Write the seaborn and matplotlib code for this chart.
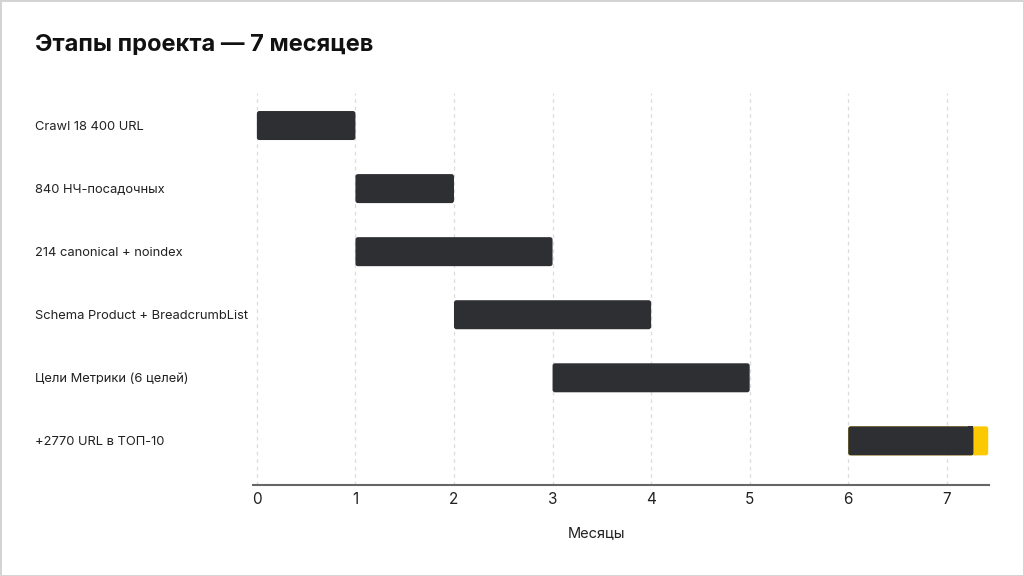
import matplotlib
matplotlib.use("Agg")
import matplotlib.pyplot as plt
import seaborn as sns
import pandas as pd
from matplotlib.patches import FancyBboxPatch

# ---- data ----
tasks = ["Crawl 18 400 URL", "840 НЧ-посадочных", "214 canonical + noindex",
         "Schema Product + BreadcrumbList", "Цели Метрики (6 целей)", "+2770 URL в ТОП-10"]
starts = [0, 1, 1, 2, 3, 6]
ends = [1, 2, 3, 4, 5, 7.27]
overrun_end = [None, None, None, None, None, 7.42]
xticks = [0, 1, 2, 3, 4, 5, 6, 7]
title = "Этапы проекта — 7 месяцев"
xlabel = "Месяцы"

df = pd.DataFrame({"task": tasks, "start": starts, "end": ends, "over": overrun_end})
df["dur"] = df["end"] - df["start"]

sns.set_theme(style="white")
plt.rcParams["font.family"] = ["Inter", "DejaVu Sans"]

DARK = "#2e2f32"
YELLOW = "#fcc800"

fig = plt.figure(figsize=(10.24, 5.76), dpi=100)
fig.patch.set_facecolor("white")
fig.patch.set_edgecolor("#d4d4d4")
fig.patch.set_linewidth(2)
ax = fig.add_axes([0.247, 0.158, 0.719, 0.681])

ypos = list(range(len(tasks)))
h = 0.46
# yellow overrun (drawn beneath, full length)
for i, row in df.iterrows():
    if pd.notna(row["over"]):
        ax.barh(i, row["over"] - row["start"], left=row["start"], height=h, color=YELLOW, zorder=2)
bars = ax.barh(ypos, df["dur"], left=df["start"], height=h, color=DARK, zorder=3)

# round corners
aspect = (1 / 63.0) / (1 / 98.5)
for cont in ax.containers:
    for r in list(cont.patches):
        x0, y0, w, hh = r.get_x(), r.get_y(), r.get_width(), r.get_height()
        fc = r.get_facecolor()
        z = r.get_zorder()
        r.set_visible(False)
        p = FancyBboxPatch((x0, y0), w, hh, boxstyle="round,pad=0,rounding_size=0.025",
                           mutation_aspect=aspect, facecolor=fc, edgecolor="none", zorder=z)
        ax.add_patch(p)
        idx = int(round(y0 + hh / 2))
        if fc[0] < 0.5 and pd.notna(df.loc[idx, "over"]):
            ax.add_patch(plt.Rectangle((x0 + w - 0.05, y0), 0.05, hh, facecolor=fc,
                                       edgecolor="none", zorder=z))

ax.set_xlim(-0.04, 7.43)
ax.set_ylim(5.7, -0.52)
ax.set_xticks(xticks)
ax.set_xticklabels([str(t) for t in xticks], fontsize=11, color="#222222")
ax.set_yticks(ypos)
ax.set_yticklabels(tasks, fontsize=9.3, color="#222222")
ax.tick_params(axis="y", length=0, pad=157)
ax.tick_params(axis="x", length=0, pad=5)
for lab in ax.get_yticklabels():
    lab.set_horizontalalignment("left")

for t in xticks:
    ax.axvline(t, color="#dcdcdc", linestyle=(0, (3, 3)), linewidth=0.9, zorder=1)

sns.despine(ax=ax, left=True, top=True, right=True)
ax.spines["bottom"].set_color("#666666")
ax.spines["bottom"].set_linewidth(1.5)

ax.set_xlabel(xlabel, fontsize=10.5, color="#222222", labelpad=14)
ax.xaxis.label.set_x(0.467)

fig.text(0.034, 0.922, title, fontsize=17, fontweight="bold", color="#111111",
         ha="left", va="center")

fig.savefig("out.png", dpi=100, facecolor=fig.get_facecolor(), edgecolor=fig.get_edgecolor())
